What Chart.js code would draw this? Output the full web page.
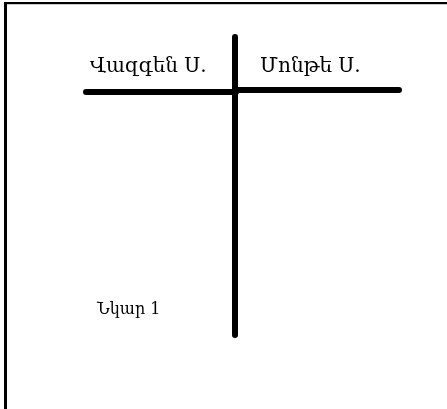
<!DOCTYPE html>
<html>
<head>
<meta charset="utf-8">
<script src="https://cdn.jsdelivr.net/npm/chart.js@4/dist/chart.umd.min.js"></script>
<style>
  html, body { margin: 0; padding: 0; background: #fff; }
  #wrap { position: relative; width: 447px; height: 409px; overflow: hidden; }
  #frame { position: absolute; left: 4px; top: 2px; width: 460px; height: 420px;
           border-left: 3px solid #000; border-top: 2px solid #000; box-shadow: 0 1px 0 #ccc inset; }
  #c { position: absolute; left: 0; top: 0; }
</style>
</head>
<body>
<div id="wrap">
  <div id="frame"></div>
  <canvas id="c" width="447" height="409"></canvas>
</div>
<script>
// ==================== DATA ====================
// drawing space: x 0..447, y 0..409 (top-down)
const headers = ['Վազգեն Ս.', 'Մոնթե Ս.'];
const headerX = [90, 260];
const headerY = 72;
const caption = 'Նկար 1';
const captionX = [97];
const captionY = 314;

// T-chart strokes: [x1, y1, x2, y2]
const stemLine = [235, 37, 235, 335];
const leftBar = [86, 92, 236, 92];
const rightBar = [238, 90, 399, 90];

const seg = (s) => [{ x: s[0], y: s[1] }, { x: s[2], y: s[3] }];

// ==================== TEXT PLUGIN ====================
const textPlugin = {
    id: 'tText',
    afterDatasetsDraw(chart) {
        const { ctx, scales } = chart;
        ctx.save();
        ctx.fillStyle = '#000';
        ctx.textBaseline = 'alphabetic';
        ctx.textAlign = 'left';
        ctx.font = '20px "DejaVu Serif"';
        headers.forEach((h, i) => {
            ctx.fillText(h, scales.x.getPixelForValue(headerX[i]), scales.y.getPixelForValue(headerY));
        });
        ctx.font = '16px "DejaVu Serif"';
        ctx.fillText(caption, scales.x.getPixelForValue(captionX[0]), scales.y.getPixelForValue(captionY));
        ctx.restore();
    }
};

const lineStyle = {
    borderColor: '#000',
    borderWidth: 6,
    borderCapStyle: 'round',
    pointRadius: 0,
    fill: false,
    tension: 0
};

new Chart(document.getElementById('c'), {
    type: 'line',
    data: {
        datasets: [
            { data: seg(stemLine), ...lineStyle },
            { data: seg(leftBar), ...lineStyle },
            { data: seg(rightBar), ...lineStyle }
        ]
    },
    options: {
        responsive: false,
        animation: false,
        layout: { padding: 0 },
        plugins: { legend: { display: false }, tooltip: { enabled: false } },
        scales: {
            x: { type: 'linear', min: 0, max: 447, display: false },
            y: { type: 'linear', min: 0, max: 409, reverse: true, display: false }
        }
    },
    plugins: [textPlugin]
});
</script>
</body>
</html>
